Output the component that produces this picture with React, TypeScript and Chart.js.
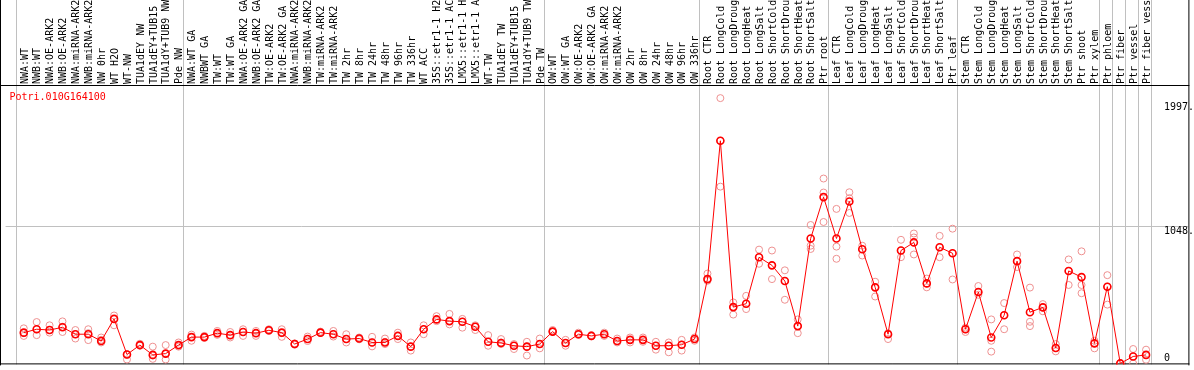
import React, { useEffect, useRef } from "react";
import { Chart, registerables } from "chart.js";
Chart.register(...registerables);

const geneId = "Potri.010G164100";

const categories = [
  "NWA:WT", "NWB:WT", "NWA:OE-ARK2", "NWB:OE-ARK2", "NWA:miRNA-ARK2", "NWB:miRNA-ARK2", "NW 0hr", "WT H2O", "WT-NW", "TUA1dEY NW", "TUA1dEY+TUB15", "TUA1dY+TUB9 NW", "Pde NW",
  "NWA:WT GA", "NWBWT GA", "TW:WT", "TW:WT GA", "NWA:OE-ARK2 GA", "NWB:OE-ARK2 GA", "TW:OE-ARK2", "TW:OE-ARK2 GA", "NWA:miRNA-ARK2", "NWB:miRNA-ARK2", "TW:miRNA-ARK2", "TW:miRNA-ARK2", "TW 2hr", "TW 8hr", "TW 24hr", "TW 48hr", "TW 96hr", "TW 336hr", "WT ACC", "35S::etr1-1 H2", "35S::etr1-1 AC", "LMX5::etr1-1 H", "LMX5::etr1-1 A", "WT-TW", "TUA1dEY TW", "TUA1dEY+TUB15", "TUA1dY+TUB9 TW", "Pde TW",
  "OW:WT", "OW:WT GA", "OW:OE-ARK2", "OW:OE-ARK2 GA", "OW:miRNA-ARK2", "OW:miRNA-ARK2", "OW 2hr", "OW 8hr", "OW 24hr", "OW 48hr", "OW 96hr", "OW 336hr",
  "Root CTR", "Root LongCold", "Root LongDroug", "Root LongHeat", "Root LongSalt", "Root ShortCold", "Root ShortDrou", "Root ShortHeat", "Root ShortSalt", "Ptr root",
  "Leaf CTR", "Leaf LongCold", "Leaf LongDroug", "Leaf LongHeat", "Leaf LongSalt", "Leaf ShortCold", "Leaf ShortDrou", "Leaf ShortHeat", "Leaf ShortSalt", "Ptr leaf",
  "Stem CTR", "Stem LongCold", "Stem LongDroug", "Stem LongHeat", "Stem LongSalt", "Stem ShortCold", "Stem ShortDrou", "Stem ShortHeat", "Stem ShortSalt", "Ptr shoot",
  "Ptr xylem", "Ptr phloem", "Ptr fiber", "Ptr vessel", "Ptr fiber vess",
];

const meanValues = [
  235, 261, 255, 276, 223, 223, 171, 340, 68, 140, 65, 75, 140,
  201, 201, 231, 216, 240, 231, 253, 235, 148, 186, 235, 223, 186, 190, 160, 160, 210, 128, 261, 336, 323, 318, 280, 165, 156, 135, 128, 148,
  243, 156, 223, 210, 223, 171, 180, 180, 135, 135, 143, 186,
  644, 1700, 430, 456, 811, 749, 629, 285, 954, 1270,
  954, 1237, 872, 581, 223, 862, 924, 611, 887, 841,
  261, 545, 198, 368, 781, 391, 428, 118, 706, 659,
  153, 586, 0, 53, 65,
];

const replicateValues = [
  [268, 231, 210], [316, 261, 216], [291, 255, 235], [321, 280, 240], [255, 223, 190], [261, 231, 178], [198, 180, 160], [366, 340, 291], [70, 66, 30], [150, 140, 135], [128, 60, 35], [140, 73, 30], [160, 140, 128],
  [220, 201, 173], [210, 201, 195], [248, 231, 218], [240, 216, 198], [261, 240, 210], [248, 231, 210], [261, 253, 248], [261, 231, 203], [153, 150, 143], [205, 186, 171], [243, 235, 233], [248, 223, 205], [223, 186, 160], [198, 190, 184], [203, 160, 130], [190, 165, 148], [235, 210, 186], [160, 128, 98], [291, 261, 223], [361, 336, 323], [378, 323, 298], [340, 318, 273], [291, 280, 255], [216, 165, 135], [186, 160, 148], [148, 135, 110], [165, 128, 60], [190, 148, 115],
  [255, 243, 240], [180, 156, 135], [235, 223, 218], [216, 210, 207], [235, 223, 210], [190, 171, 160], [198, 180, 160], [198, 180, 165], [165, 135, 105], [160, 135, 85], [180, 143, 98], [198, 186, 173],
  [686, 644, 631], [2026, 1700, 1350], [466, 430, 373], [516, 456, 415], [869, 811, 761], [862, 749, 644], [711, 629, 486], [336, 285, 231], [1057, 899, 874], [1412, 1305, 1080],
  [1180, 892, 799], [1307, 1262, 1149], [899, 872, 824], [624, 581, 511], [230, 223, 186], [944, 862, 811], [992, 962, 832], [648, 611, 581], [974, 887, 811], [1029, 841, 641],
  [273, 261, 240], [591, 543, 524], [336, 173, 90], [461, 368, 261], [832, 781, 736], [579, 318, 285], [453, 428, 398], [148, 118, 92], [794, 706, 599], [856, 599, 536],
  [173, 153, 115], [674, 586, 449], [0, 2, 0], [110, 53, 0], [105, 65, 28],
];

const groupBoundaries = [0, 13, 41, 53, 63, 73, 84, 85, 86, 87, 88];
const gridValues = [1048];
const yTickValues = [1997, 1048, 0];
const yTickLabels = ["1997.", "1048.", "0"];

const FONT = '10px "DejaVu Sans Mono", monospace';
const POINT_OFFSET = 0.64;

export default function App() {
  const ref = useRef<HTMLCanvasElement | null>(null);

  useEffect(() => {
    const canvas = ref.current;
    if (!canvas) return;

    const decor = {
      id: "decor",
      beforeDatasetsDraw(chart: any) {
        const { ctx, chartArea, scales } = chart;
        const xs = scales.x;
        const ys = scales.y;
        ctx.save();
        ctx.lineWidth = 1;
        ctx.strokeStyle = "#c0c0c0";
        for (const b of groupBoundaries) {
          const px = Math.round(xs.getPixelForValue(b)) + 0.5;
          ctx.beginPath();
          ctx.moveTo(px, 0);
          ctx.lineTo(px, chartArea.bottom);
          ctx.stroke();
        }
        for (const g of gridValues) {
          const py = Math.round(ys.getPixelForValue(g)) + 0.5;
          ctx.beginPath();
          ctx.moveTo(chartArea.left, py);
          ctx.lineTo(chartArea.right, py);
          ctx.stroke();
        }
        ctx.strokeStyle = "#000000";
        ctx.beginPath();
        ctx.moveTo(0.5, 0);
        ctx.lineTo(0.5, chartArea.bottom + 1);
        ctx.moveTo(chartArea.right + 0.5, 0);
        ctx.lineTo(chartArea.right + 0.5, chartArea.bottom + 1);
        ctx.moveTo(0, chartArea.top - 0.5);
        ctx.lineTo(chartArea.right + 1, chartArea.top - 0.5);
        ctx.moveTo(0, chartArea.bottom - 0.5);
        ctx.lineTo(chartArea.right + 1, chartArea.bottom - 0.5);
        ctx.stroke();
        ctx.restore();
      },
      afterDraw(chart: any) {
        const { ctx, chartArea, scales } = chart;
        const xs = scales.x;
        const ys = scales.y;
        ctx.save();
        ctx.font = FONT;
        ctx.fillStyle = "#000000";
        ctx.textAlign = "left";
        ctx.textBaseline = "alphabetic";
        categories.forEach((label, i) => {
          const px = xs.getPixelForValue(i) + 12;
          ctx.save();
          ctx.translate(px, chartArea.top - 2);
          ctx.rotate(-Math.PI / 2);
          ctx.fillText(label, 0, 0);
          ctx.restore();
        });
        yTickValues.forEach((v, k) => {
          const py = ys.getPixelForValue(v);
          const base = v === 0 ? py - 2.5 : py + 8.2;
          ctx.fillText(yTickLabels[k], 1164, base);
        });
        ctx.fillStyle = "#ff0000";
        ctx.fillText(geneId, 9.5, chartArea.top + 14);
        ctx.restore();
      },
    };

    const meanData = meanValues.map((v, i) => ({ x: i + POINT_OFFSET, y: v }));
    const repData: { x: number; y: number }[] = [];
    replicateValues.forEach((arr, i) => arr.forEach((v) => repData.push({ x: i + POINT_OFFSET, y: v })));

    const k = (368 - 228.5) / 1048;
    const chart = new Chart(canvas, {
      type: "line",
      data: {
        datasets: [
          {
            label: "mean",
            data: meanData,
            order: 0,
            borderColor: "#ff0000",
            borderWidth: 1,
            pointRadius: 3.5,
            pointBorderWidth: 1.6,
            pointBorderColor: "#ff0000",
            pointBackgroundColor: "rgba(0,0,0,0)",
            tension: 0,
          },
          {
            label: "replicates",
            data: repData,
            order: 1,
            showLine: false,
            pointRadius: 3.5,
            pointBorderWidth: 1,
            pointBorderColor: "#ee9090",
            pointBackgroundColor: "rgba(0,0,0,0)",
          },
        ],
      },
      options: {
        responsive: false,
        animation: false,
        devicePixelRatio: 1,
        layout: { padding: { left: 1, right: 1, top: 86, bottom: 1 } },
        scales: {
          x: { type: "linear", display: false, min: -10 / 13, max: 1182 / 13 },
          y: { type: "linear", display: false, min: -1 / k, max: (368 - 86) / k },
        },
        plugins: { legend: { display: false }, tooltip: { enabled: false } },
        events: [],
      },
      plugins: [decor],
    });
    return () => chart.destroy();
  }, []);

  return (
    <div style={{ position: "fixed", left: 0, top: 0, width: 1194, height: 370, background: "#ffffff" }}>
      <canvas ref={ref} width={1194} height={370} style={{ display: "block" }} />
    </div>
  );
}
